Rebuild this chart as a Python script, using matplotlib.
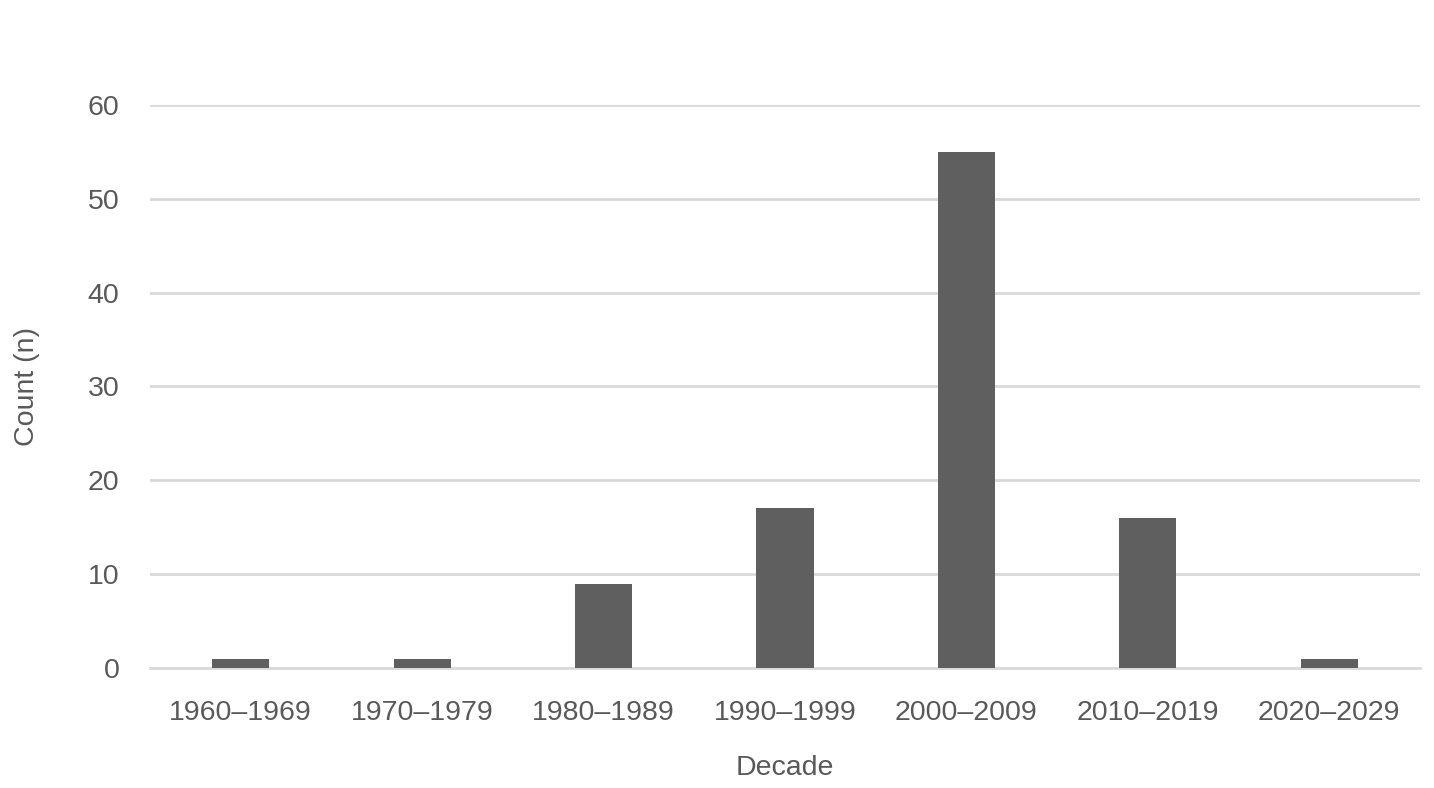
import matplotlib.pyplot as plt

decades = ['1960–1969', '1970–1979', '1980–1989', '1990–1999',
           '2000–2009', '2010–2019', '2020–2029']
counts = [1, 1, 9, 17, 55, 16, 1]
yticks = [0, 10, 20, 30, 40, 50, 60]

plt.rcParams['font.family'] = ['Liberation Sans', 'DejaVu Sans']
txt = '#595959'

fig = plt.figure(figsize=(14.34, 7.88), dpi=100)
ax = fig.add_axes([0.1046, 0.1523, 0.8856, 0.7145])

x = range(len(decades))
ax.bar(x, counts, width=0.315, color='#5f5f5f', zorder=3)

ax.set_xlim(-0.5, len(decades) - 0.5)
ax.set_ylim(0, 60)
ax.set_yticks(yticks)
ax.set_xticks(list(x))
ax.set_xticklabels(decades)
ax.yaxis.grid(True, color='#d9d9d9', lw=2, zorder=0)
ax.tick_params(length=0, labelsize=20.5, labelcolor=txt)
ax.tick_params(axis='x', pad=23)
ax.tick_params(axis='y', pad=22)
for s in ax.spines.values():
    s.set_visible(False)
ax.axhline(0, color='#d9d9d9', lw=2, zorder=1, clip_on=False)

ax.set_xlabel('Decade', fontsize=20.5, color=txt, labelpad=21)
ax.set_ylabel('Count (n)', fontsize=20.5, color=txt, labelpad=34)

plt.savefig('out.png', dpi=100)
